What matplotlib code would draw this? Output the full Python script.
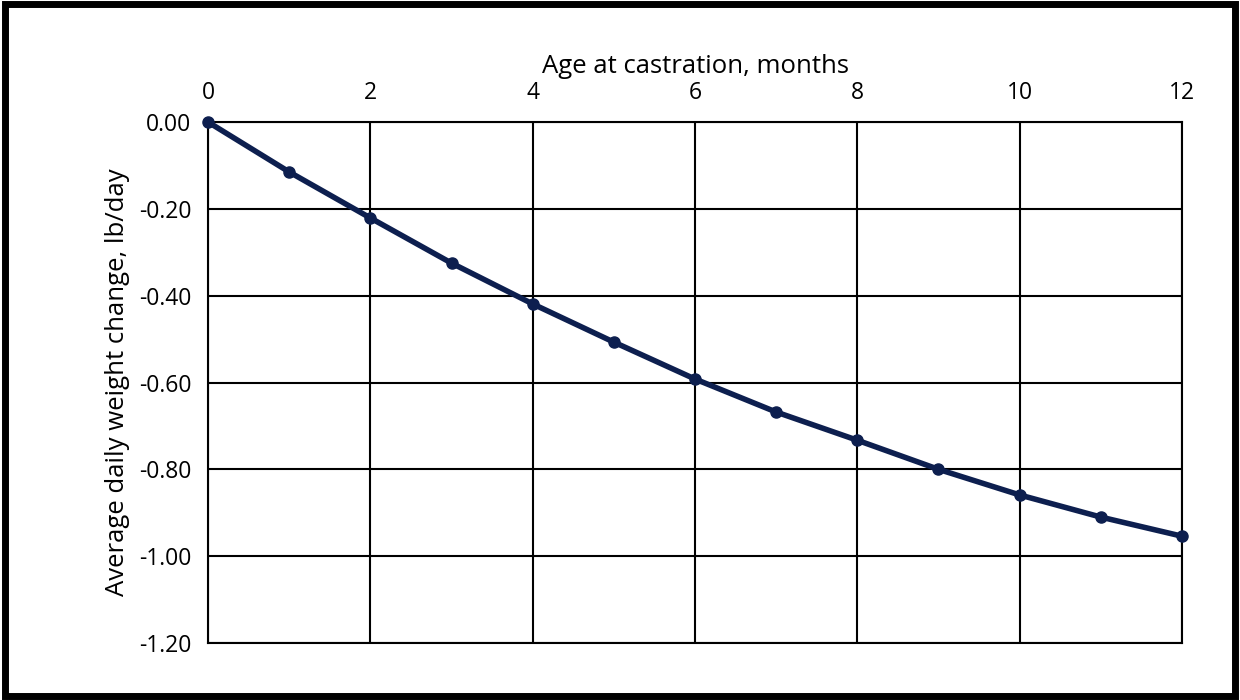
import matplotlib
matplotlib.use("Agg")
import matplotlib.pyplot as plt
from matplotlib.patches import Rectangle

months = [0, 1, 2, 3, 4, 5, 6, 7, 8, 9, 10, 11, 12]
adg_change = [0.0, -0.115, -0.221, -0.325, -0.419, -0.507, -0.592, -0.668, -0.733, -0.800, -0.859, -0.910, -0.954]
xticks = [0, 2, 4, 6, 8, 10, 12]
yticks = [0.0, -0.2, -0.4, -0.6, -0.8, -1.0, -1.2]

plt.rcParams['font.family'] = ['Open Sans', 'DejaVu Sans']
fig = plt.figure(figsize=(12.4, 7.0), dpi=100)
ax = fig.add_axes([208/1240, 1-643/700, (1182-208)/1240, (643-122)/700])
ax.plot(months, adg_change, color='#0d1f4f', lw=4, marker='o', ms=8, zorder=3, clip_on=False)
ax.set_xlim(0, 12)
ax.set_ylim(-1.2, 0)
ax.set_xticks(xticks)
ax.set_yticks(yticks)
ax.set_yticklabels([f"{v:.2f}" for v in yticks])
ax.xaxis.tick_top()
ax.xaxis.set_label_position('top')
ax.tick_params(length=0, labelsize=16.5, pad=12)
ax.grid(True, color='black', lw=1.5)
for s in ax.spines.values():
    s.set_linewidth(1.5)
ax.set_xlabel('Age at castration, months', fontsize=18.5, labelpad=6)
ax.set_ylabel('Average daily weight change, lb/day', fontsize=18.5, labelpad=6)
fig.patches.append(Rectangle((0.004, 0.006), 0.992, 0.988, transform=fig.transFigure,
                             fill=False, lw=5, edgecolor='black'))
fig.savefig('out.png', dpi=100)
